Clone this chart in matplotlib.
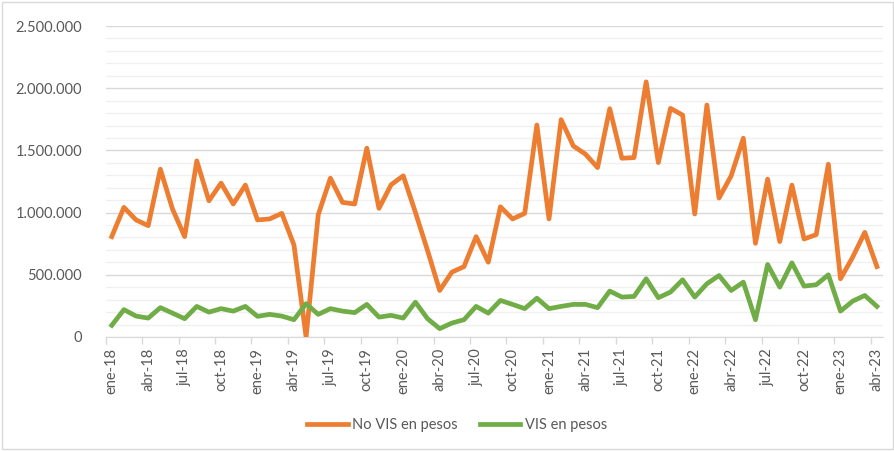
import matplotlib
matplotlib.use("Agg")
import matplotlib.pyplot as plt
from matplotlib.patches import Rectangle
from matplotlib.ticker import FuncFormatter, MultipleLocator

months = ["ene", "feb", "mar", "abr", "may", "jun", "jul", "ago", "sep", "oct", "nov", "dic"]
categories = [f"{months[i % 12]}-{18 + i // 12}" for i in range(64)]

no_vis = [807, 1042, 941, 895, 1349, 1029, 807, 1416, 1095, 1237, 1069, 1221,
          941, 949, 994, 740, 0, 983, 1277, 1082, 1069, 1518, 1034, 1224,
          1296, 1002, 695, 374, 521, 566, 807, 601, 1047, 949, 994, 1704,
          949, 1747, 1536, 1470, 1362, 1835, 1437, 1442, 2051, 1402, 1838, 1784,
          989, 1865, 1117, 1296, 1598, 753, 1269, 767, 1221, 788, 823, 1389,
          468, 641, 841, 566]
vis = [94, 220, 168, 152, 236, 192, 147, 246, 200, 228, 208, 246,
       166, 182, 168, 139, 268, 182, 228, 208, 196, 262, 160, 174,
       152, 280, 147, 67, 112, 139, 246, 192, 294, 262, 228, 312,
       228, 246, 262, 262, 236, 369, 321, 326, 468, 316, 361, 460,
       321, 428, 494, 374, 441, 139, 583, 401, 596, 409, 420, 500,
       208, 288, 334, 246]
no_vis = [v * 1000 for v in no_vis]
vis = [v * 1000 for v in vis]

series_names = ["No VIS en pesos", "VIS en pesos"]
colors = ["#ED7D31", "#70AD47"]

plt.rcParams['font.family'] = ['Lato', 'DejaVu Sans']

fig = plt.figure(figsize=(8.95, 4.51), dpi=100)
ax = fig.add_axes([105.7 / 895, 1 - 337 / 451, (883 - 105.7) / 895, (337 - 26) / 451])

x = list(range(len(categories)))
ax.plot(x, no_vis, color=colors[0], lw=3.4, label=series_names[0], solid_joinstyle='round', zorder=3)
ax.plot(x, vis, color=colors[1], lw=3.4, label=series_names[1], solid_joinstyle='round', zorder=3)

ax.set_xlim(-0.5, len(categories) - 0.5)
ax.set_ylim(0, 2500000)

ax.yaxis.set_major_locator(MultipleLocator(500000))
ax.yaxis.set_minor_locator(MultipleLocator(100000))
ax.yaxis.set_major_formatter(FuncFormatter(lambda v, p: f"{int(v):,}".replace(",", ".")))
ax.grid(axis='y', which='major', color='#d9d9d9', lw=1, zorder=0)
ax.grid(axis='y', which='minor', color='#f0f0f0', lw=1, zorder=0)
ax.tick_params(axis='y', which='both', length=0, pad=17, labelsize=10.5, labelcolor='#595959')

ax.set_xticks(x[::3])
ax.set_xticklabels(categories[::3], rotation=90, fontsize=10.5, color='#595959')
ax.tick_params(axis='x', which='major', length=0, pad=8)
ax.set_xticks([i - 0.5 for i in range(0, len(categories), 3)], minor=True)
ax.tick_params(axis='x', which='minor', length=5, color='#d9d9d9', width=1)

for s in ['top', 'right', 'left']:
    ax.spines[s].set_visible(False)
ax.spines['bottom'].set_color('#d9d9d9')

fig.legend(loc='center', bbox_to_anchor=(457 / 895, 1 - 425 / 451), ncol=2, frameon=False,
           fontsize=10.5, labelcolor='#595959', handlelength=2.8, columnspacing=1.5, handletextpad=0.3)

fig.patches.append(Rectangle((2 / 895, 2 / 451), 891 / 895, 447 / 451, transform=fig.transFigure,
                             fill=False, edgecolor='#d9d9d9', lw=1))

fig.savefig("out.png", dpi=100)
